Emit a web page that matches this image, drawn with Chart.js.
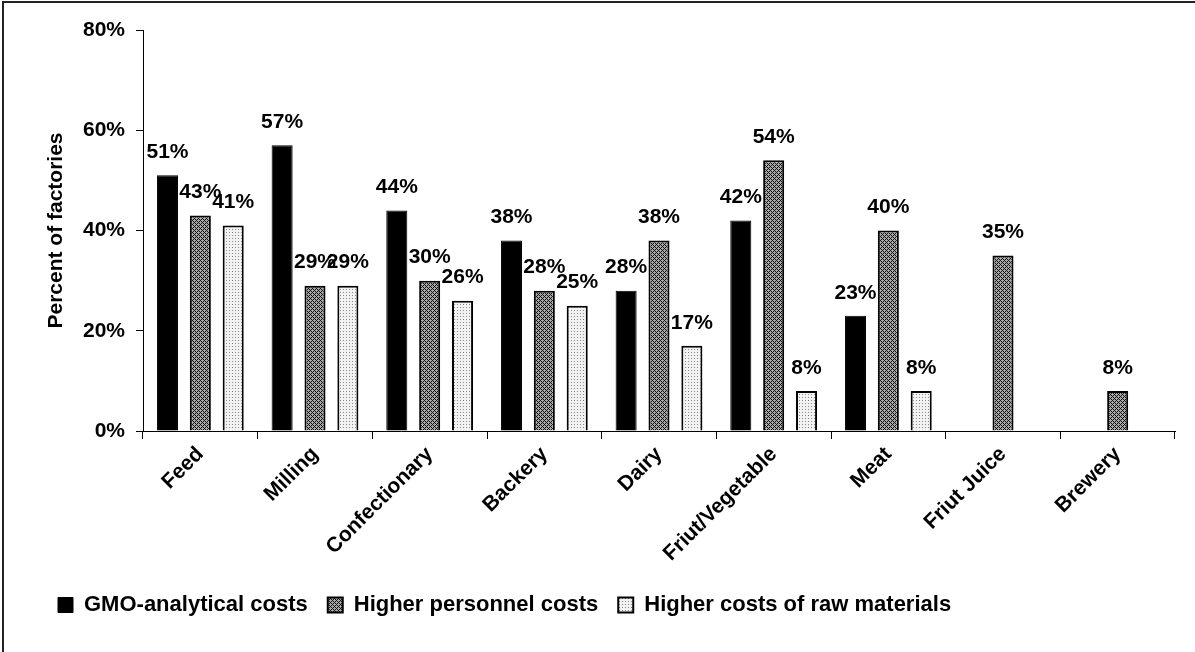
<!DOCTYPE html>
<html>
<head>
<meta charset="utf-8">
<script src="https://cdn.jsdelivr.net/npm/chart.js@4.4.1/dist/chart.umd.min.js"></script>
<style>
  body { margin: 0; background: #fff; }
  #wrap { position: relative; width: 1195px; height: 652px; }
  #frame { position: absolute; left: 2px; top: 1px; right: 0; bottom: 0;
           border-top: 2px solid #222; border-left: 2px solid #222; pointer-events: none; }
  canvas { position: absolute; left: 0; top: 0; }
</style>
</head>
<body>
<div id="wrap">
  <canvas id="canvas" width="1195" height="652"></canvas>
  <div id="frame"></div>
</div>
<script>
var categories = ['Feed', 'Milling', 'Confectionary', 'Backery', 'Dairy', 'Friut/Vegetable', 'Meat', 'Friut Juice', 'Brewery']
var seriesNames = ['GMO-analytical costs', 'Higher personnel costs', 'Higher costs of raw materials']
var gmoCosts = [51, 57, 44, 38, 28, 42, 23, null, null]
var personnelCosts = [43, 29, 30, 28, 38, 54, 40, 35, 8]
var rawMaterialCosts = [41, 29, 26, 25, 17, 8, 8, null, null]
var yTicks = [0, 20, 40, 60, 80]

var FONT = 'Liberation Sans, Arial, sans-serif'

// small tiles used as bar fills
function makePattern(size, draw) {
    var tile = document.createElement('canvas')
    tile.width = size
    tile.height = size
    var c = tile.getContext('2d')
    draw(c)
    return document.getElementById('canvas').getContext('2d').createPattern(tile, 'repeat')
}

var crossHatch = makePattern(4, function(c) {
    c.fillStyle = '#a8a8a8'
    c.fillRect(0, 0, 4, 4)
    c.fillStyle = '#111'
    for (var x = 0; x < 4; x++) {
        for (var y = 0; y < 4; y++) {
            if ((x + y) % 4 == 0 || (x - y + 4) % 4 == 0) c.fillRect(x, y, 1, 1)
        }
    }
})

var dots = makePattern(3, function(c) {
    c.fillStyle = '#f2f2f2'
    c.fillRect(0, 0, 3, 3)
    c.fillStyle = '#8a8a8a'
    c.fillRect(1, 1, 1, 1)
})

// value labels above each bar
var barLabels = {
    id: 'barLabels',
    afterDatasetsDraw: function(chart) {
        var ctx = chart.ctx
        ctx.save()
        ctx.font = 'bold 21px ' + FONT
        ctx.fillStyle = '#000'
        ctx.textAlign = 'center'
        ctx.textBaseline = 'middle'
        chart.data.datasets.forEach(function(ds, i) {
            chart.getDatasetMeta(i).data.forEach(function(bar, j) {
                var v = ds.data[j]
                if (v == null) return
                ctx.fillText(v + '%', bar.x, bar.y - 23)
            })
        })
        ctx.restore()
    }
}

var ctx = document.getElementById('canvas').getContext('2d')

var chart = new Chart(ctx, {
    type: 'bar',
    data: {
        labels: categories,
        datasets: [{
            label: seriesNames[0],
            data: gmoCosts,
            backgroundColor: '#000',
            borderColor: '#000',
            borderWidth: 1
        }, {
            label: seriesNames[1],
            data: personnelCosts,
            backgroundColor: crossHatch,
            borderColor: '#000',
            borderWidth: 2
        }, {
            label: seriesNames[2],
            data: rawMaterialCosts,
            backgroundColor: dots,
            borderColor: '#000',
            borderWidth: 2
        }]
    },
    options: {
        responsive: false,
        animation: false,
        datasets: {
            bar: { categoryPercentage: 0.86, barPercentage: 0.64 }
        },
        layout: { padding: { left: 38, top: 30, right: 20, bottom: 26 } },
        plugins: {
            tooltip: { enabled: false },
            legend: {
                position: 'bottom',
                align: 'start',
                labels: {
                    color: '#000',
                    boxWidth: 15,
                    boxHeight: 15,
                    padding: 20,
                    font: { family: FONT, size: 22, weight: 'bold' }
                }
            }
        },
        scales: {
            x: {
                afterFit: function(s) { s.height = 143 },
                border: { color: '#000', width: 1 },
                grid: { drawOnChartArea: false, tickLength: 8, color: '#000' },
                ticks: {
                    color: '#000',
                    minRotation: 45,
                    maxRotation: 45,
                    autoSkip: false,
                    font: { family: FONT, size: 21, weight: 'bold' }
                }
            },
            y: {
                min: 0,
                max: 80,
                afterFit: function(s) { s.width = 105 },
                afterBuildTicks: function(s) {
                    s.ticks = yTicks.map(function(v) { return { value: v } })
                },
                border: { color: '#000', width: 1 },
                grid: { drawOnChartArea: false, tickLength: 7, color: '#000' },
                ticks: {
                    color: '#000',
                    padding: 11,
                    font: { family: FONT, size: 21, weight: 'bold' },
                    callback: function(v) { return v + '%' }
                },
                title: {
                    display: true,
                    text: 'Percent of factories',
                    color: '#000',
                    padding: { top: 6, bottom: 0 },
                    font: { family: FONT, size: 21, weight: 'bold' }
                }
            }
        }
    },
    plugins: [barLabels]
})
</script>
</body>
</html>
